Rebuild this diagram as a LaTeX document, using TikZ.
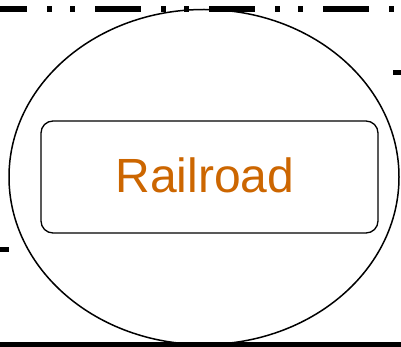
\documentclass[tikz,border=0pt]{standalone}
\usepackage{fontspec}
\setmainfont{Liberation Sans}
\definecolor{railorange}{RGB}{204,102,0}
\tikzset{
  boundary/.style={line width=6pt, dash pattern=on 46pt off 20pt on 5pt off 18pt on 5pt off 20pt, dash phase=19pt},
  edgeline/.style={line width=5pt},
  outer/.style={draw, ellipse, line width=1.5pt, minimum width=390pt, minimum height=335pt, inner sep=0pt},
  railbox/.style={draw, rounded corners=12pt, line width=1.3pt, minimum width=337pt, minimum height=112pt, inner sep=0pt},
  raillabel/.style={text=railorange, font=\fontsize{48}{52}\selectfont, inner sep=0pt}
}
\usetikzlibrary{shapes.geometric}
\begin{document}
\begin{tikzpicture}[x=1pt,y=-1pt]
\useasboundingbox (0,0) rectangle (401,347);
\fill[white] (0,0) rectangle (401,347);
\coordinate (tl) at (0,9);
\coordinate (tr) at (401,9);
\draw[boundary] (tl) -- (tr);
\coordinate (bl) at (0,344.5);
\coordinate (br) at (401,344.5);
\draw[edgeline] (bl) -- (br);
\coordinate (ra) at (393,73);
\coordinate (rb) at (401,73);
\draw[line width=5pt] (ra) -- (rb);
\coordinate (la) at (0,249.5);
\coordinate (lb) at (9,249.5);
\draw[line width=5pt] (la) -- (lb);
\node[outer] (ell) at (204,177) {};
\node[railbox] (rail) at (209.5,177) {};
\node[raillabel, anchor=base] (lbl) at (205,193) {Railroad};
\end{tikzpicture}
\end{document}
